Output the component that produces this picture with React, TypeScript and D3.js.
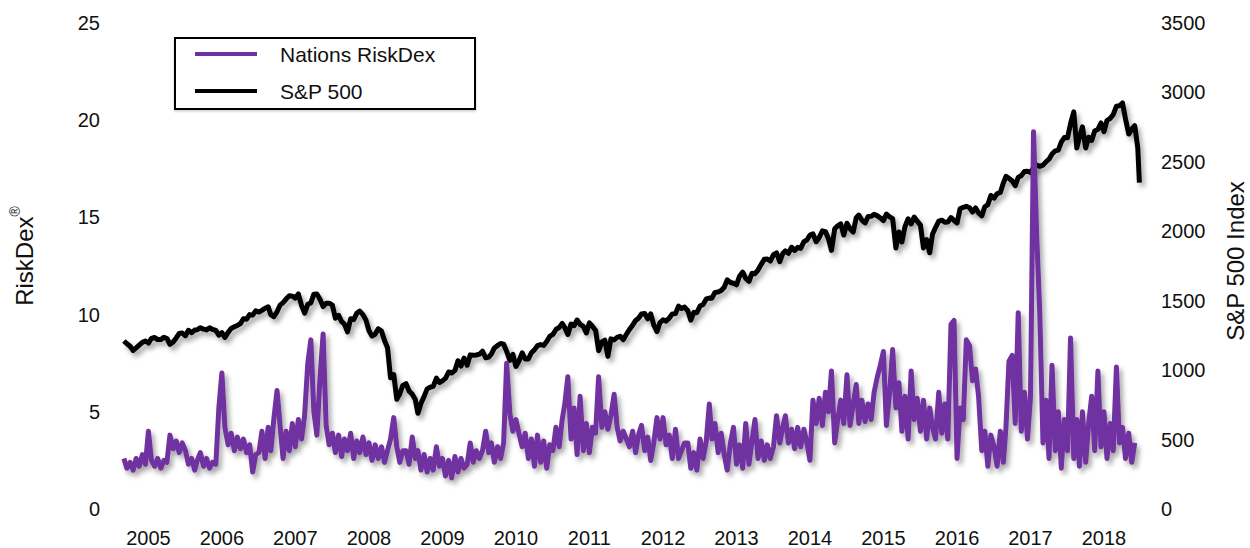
import React from 'react';
import * as d3 from 'd3';

// half-month samples (1st and 16th) starting March 2005
const riskDex = [
  // 2005 (Mar-Dec)
  2.6, 2.1, 2.4, 2.0, 2.6, 2.2, 2.8, 2.3, 4.0, 2.5, 2.2, 2.6, 2.1, 2.5, 2.4, 3.8, 3.1, 3.5, 2.9, 3.4,
  // 2006
  3.0, 2.3, 2.6, 2.0, 2.5, 2.9, 2.2, 2.6, 2.1, 2.4, 2.3, 5.2, 7.0, 4.2, 3.3, 3.9, 3.0, 3.7, 3.1, 3.6, 2.9, 3.3, 1.9, 2.8,
  // 2007
  2.9, 4.0, 2.6, 4.2, 3.0, 4.6, 6.1, 4.3, 2.6, 4.0, 3.0, 4.4, 3.2, 4.6, 3.6, 4.8, 7.5, 8.7, 5.0, 3.8, 6.8, 9.0, 4.3, 3.3,
  // 2008
  3.9, 2.9, 3.8, 2.7, 3.6, 3.0, 3.9, 2.6, 3.5, 2.9, 3.7, 2.8, 3.4, 2.5, 3.3, 2.6, 3.2, 2.4, 3.0, 3.6, 4.7, 3.2, 2.4, 3.0,
  // 2009
  3.0, 2.3, 3.7, 2.6, 3.0, 2.0, 2.8, 1.9, 2.6, 2.0, 3.2, 2.2, 2.6, 1.7, 2.5, 1.6, 2.7, 1.9, 2.6, 2.1, 2.3, 3.4, 2.4, 3.0,
  // 2010
  2.6, 3.0, 4.0, 2.9, 3.4, 2.4, 3.2, 2.6, 3.4, 7.5, 4.9, 4.0, 4.6, 3.9, 3.2, 3.9, 2.6, 3.6, 2.2, 3.8, 2.4, 3.5, 2.1, 3.3,
  // 2011
  3.0, 4.2, 3.2, 4.6, 5.4, 6.8, 3.6, 5.2, 2.8, 5.8, 3.0, 4.4, 2.9, 4.2, 3.9, 6.8, 4.2, 5.0, 4.1, 4.8, 5.9, 4.2, 3.5, 4.0,
  // 2012
  3.6, 3.2, 4.0, 2.9, 3.8, 4.3, 3.0, 3.7, 2.5, 3.4, 4.7, 3.6, 4.7, 3.3, 3.8, 2.6, 4.1, 2.6, 3.0, 3.4, 3.4, 2.1, 2.9, 2.0,
  // 2013
  3.6, 2.6, 3.5, 5.4, 3.6, 4.4, 2.9, 3.9, 2.8, 2.0, 3.4, 4.2, 2.3, 3.3, 2.1, 4.4, 2.3, 3.5, 4.6, 2.6, 3.5, 2.5, 3.3, 2.6,
  // 2014
  3.2, 4.8, 3.4, 4.2, 4.8, 3.4, 4.1, 3.1, 4.2, 3.2, 4.1, 3.4, 2.5, 5.6, 4.4, 5.7, 4.3, 6.0, 5.0, 7.1, 3.4, 4.6, 5.6, 4.4,
  // 2015
  6.9, 4.3, 5.4, 6.4, 4.4, 5.6, 4.5, 5.4, 4.6, 6.0, 6.8, 7.4, 8.1, 4.3, 6.0, 8.2, 5.2, 6.5, 4.0, 5.8, 3.6, 7.1, 4.6, 5.7,
  // 2016
  4.0, 5.6, 3.6, 5.2, 4.2, 3.6, 6.0, 3.9, 5.4, 3.6, 9.5, 9.7, 2.6, 5.2, 4.6, 8.7, 8.4, 6.6, 7.2, 5.8, 3.0, 4.0, 2.2, 3.8,
  // 2017
  3.2, 2.2, 4.0, 2.4, 4.2, 7.6, 7.9, 4.4, 10.1, 4.0, 6.0, 3.6, 5.8, 19.4, 14.0, 10.1, 3.4, 5.6, 2.6, 7.4, 3.0, 5.0, 2.1, 4.6,
  // 2018 (Jan-Dec 1)
  3.0, 8.8, 2.6, 4.6, 2.2, 5.0, 2.4, 4.4, 5.8, 3.0, 7.1, 3.2, 5.0, 2.6, 4.4, 3.0, 7.3, 3.4, 4.2, 2.6, 3.9, 2.4, 3.4,
];

const sp500 = [
  // 2005 (Mar-Dec)
  1210, 1190, 1172, 1142, 1160, 1180, 1200, 1210, 1195, 1228, 1235, 1220, 1220, 1237, 1228, 1186, 1203, 1232, 1264, 1267,
  // 2006
  1248, 1287, 1270, 1289, 1291, 1306, 1295, 1290, 1305, 1293, 1286, 1252, 1270, 1236, 1272, 1300, 1312, 1322, 1335, 1370, 1367, 1400, 1396, 1427,
  // 2007
  1418, 1431, 1446, 1456, 1400, 1386, 1420, 1468, 1486, 1512, 1536, 1533, 1519, 1549, 1465, 1411, 1474, 1484, 1547, 1548, 1509, 1458, 1481, 1482,
  // 2008
  1468, 1374, 1395, 1350, 1331, 1276, 1370, 1364, 1409, 1425, 1400, 1360, 1284, 1245, 1260, 1298, 1282, 1213, 1161, 946, 968, 790, 830, 890,
  // 2009
  903, 850, 826, 789, 690, 760, 811, 865, 877, 883, 942, 911, 923, 941, 987, 979, 998, 1068, 1029, 1087, 1036, 1110, 1108, 1109,
  // 2010
  1115, 1136, 1089, 1094, 1115, 1160, 1178, 1192, 1187, 1135, 1070, 1114, 1027, 1065, 1125, 1080, 1080, 1125, 1146, 1176, 1184, 1178, 1206, 1243,
  // 2011
  1258, 1293, 1307, 1336, 1306, 1257, 1332, 1320, 1361, 1329, 1315, 1268, 1340, 1316, 1286, 1140, 1204, 1216, 1099, 1225, 1218, 1236, 1244, 1219,
  // 2012
  1258, 1293, 1324, 1358, 1374, 1404, 1408, 1370, 1405, 1324, 1278, 1343, 1362, 1353, 1375, 1405, 1407, 1461, 1444, 1454, 1428, 1360, 1416, 1414,
  // 2013
  1462, 1473, 1513, 1519, 1518, 1560, 1563, 1574, 1597, 1650, 1631, 1626, 1614, 1676, 1706, 1661, 1640, 1697, 1695, 1721, 1762, 1798, 1800, 1786,
  // 2014
  1832, 1845, 1782, 1840, 1859, 1841, 1885, 1862, 1884, 1877, 1925, 1937, 1973, 1981, 1925, 1955, 2003, 1998, 1946, 1862, 2018, 2039, 2053, 1973,
  // 2015
  2058, 2019, 1995, 2097, 2117, 2081, 2060, 2106, 2108, 2122, 2111, 2096, 2077, 2124, 2104, 2091, 1880, 1995, 1923, 2033, 2090, 2053, 2102, 2073,
  // 2016
  2044, 1880, 1940, 1845, 1978, 2027, 2073, 2080, 2065, 2066, 2099, 2077, 2060, 2162, 2173, 2180, 2170, 2139, 2168, 2133, 2111, 2177, 2192, 2258,
  // 2017
  2239, 2270, 2280, 2347, 2395, 2381, 2362, 2328, 2388, 2400, 2430, 2433, 2423, 2459, 2476, 2468, 2476, 2500, 2519, 2557, 2579, 2585, 2642, 2675,
  // 2018
  2674, 2776, 2860, 2600, 2677, 2752, 2600, 2677, 2654, 2722, 2734, 2780, 2718, 2798, 2813, 2840, 2901, 2904, 2924, 2809, 2700, 2736, 2760, 2600,
];
const sp500LastDate = '2018-12-24';
const sp500LastValue = 2351;

const years = [2005, 2006, 2007, 2008, 2009, 2010, 2011, 2012, 2013, 2014, 2015, 2016, 2017, 2018];
const leftTicks = [0, 5, 10, 15, 20, 25];
const rightTicks = [0, 500, 1000, 1500, 2000, 2500, 3000, 3500];

const PURPLE = '#7030a0';
const FONT = '"Liberation Sans", Arial, Helvetica, sans-serif';

function halfMonths(n: number) {
  const out: Date[] = [];
  for (let i = 0; i < n; i++) {
    const m = 2 + Math.floor(i / 2);
    out.push(new Date(2005, m, i % 2 ? 16 : 1));
  }
  return out;
}

export default function App() {
  const width = 1250;
  const height = 548;

  const x = d3.scaleTime()
    .domain([new Date(2005, 0, 1), new Date(2019, 0, 1)])
    .range([112, 1141]);
  const yL = d3.scaleLinear().domain([0, 25]).range([509, 23]);
  const yR = d3.scaleLinear().domain([0, 3500]).range([509, 23]);

  const rdDates = halfMonths(riskDex.length);
  const spDates = halfMonths(sp500.length);
  const rdPts: [Date, number][] = riskDex.map((v, i) => [rdDates[i], v]);
  const spPts: [Date, number][] = sp500.map((v, i) => [spDates[i], v]);
  spPts.push([new Date(sp500LastDate + 'T00:00:00'), sp500LastValue]);

  const rdLine = d3.line<[Date, number]>().x(d => x(d[0])).y(d => yL(d[1]));
  const spLine = d3.line<[Date, number]>().x(d => x(d[0])).y(d => yR(d[1]));

  const gridX0 = 120;
  const gridX1 = 1137;

  return (
    <svg width={width} height={height} style={{ position: 'absolute', left: 0, top: 0 }}
      fontFamily={FONT}>
      <defs>
        <filter id="shadow" x="-5%" y="-5%" width="110%" height="115%">
          <feDropShadow dx="3" dy="4" stdDeviation="2.5" floodColor="#000" floodOpacity="0.35" />
        </filter>
        <filter id="gshadow" x="-1%" y="-50%" width="102%" height="300%">
          <feDropShadow dx="0" dy="1.5" stdDeviation="0.8" floodColor="#000" floodOpacity="0.2" />
        </filter>
      </defs>
      <rect width={width} height={height} fill="#fff" />

      {leftTicks.map(t => (
        <g key={t}>
          <line x1={gridX0} x2={gridX1} y1={yL(t)} y2={yL(t)} stroke="#9a9a9a" strokeWidth={1.4}
            filter="url(#gshadow)" />
          <text x={100} y={yL(t)} textAnchor="end" dominantBaseline="central" fontSize={20} fill="#111">{t}</text>
        </g>
      ))}
      {rightTicks.map(t => (
        <text key={t} x={1161} y={yR(t)} textAnchor="start" dominantBaseline="central" fontSize={20} fill="#111">{t}</text>
      ))}

      {years.map(yr => (
        <text key={yr} x={x(new Date(yr, 6, 1))} y={538} textAnchor="middle" dominantBaseline="central"
          fontSize={20} fill="#111">{yr}</text>
      ))}

      <text transform="translate(24,256) rotate(-90)" textAnchor="middle" dominantBaseline="central"
        fontSize={24} fill="#111">
        <tspan>RiskDex</tspan>
        <tspan fontSize={14} dy={-9}>®</tspan>
      </text>
      <text transform="translate(1235,261) rotate(-90)" textAnchor="middle" dominantBaseline="central"
        fontSize={24} fill="#111">S&amp;P 500 Index</text>

      <path d={spLine(spPts) || ''} fill="none" stroke="#000" strokeWidth={5} strokeLinejoin="round"
        filter="url(#shadow)" />
      <path d={rdLine(rdPts) || ''} fill="none" stroke={PURPLE} strokeWidth={5} strokeLinejoin="round"
        filter="url(#shadow)" />

      <g>
        <rect x={175} y={38} width={300} height={71} fill="#fff" stroke="#000" strokeWidth={2}
          filter="url(#gshadow)" />
        <line x1={195} x2={257} y1={54} y2={54} stroke={PURPLE} strokeWidth={4} />
        <line x1={195} x2={257} y1={91} y2={91} stroke="#000" strokeWidth={4} />
        <text x={280} y={54} dominantBaseline="central" fontSize={21} fill="#111">Nations RiskDex</text>
        <text x={280} y={91} dominantBaseline="central" fontSize={21} fill="#111">S&amp;P 500</text>
      </g>
    </svg>
  );
}
